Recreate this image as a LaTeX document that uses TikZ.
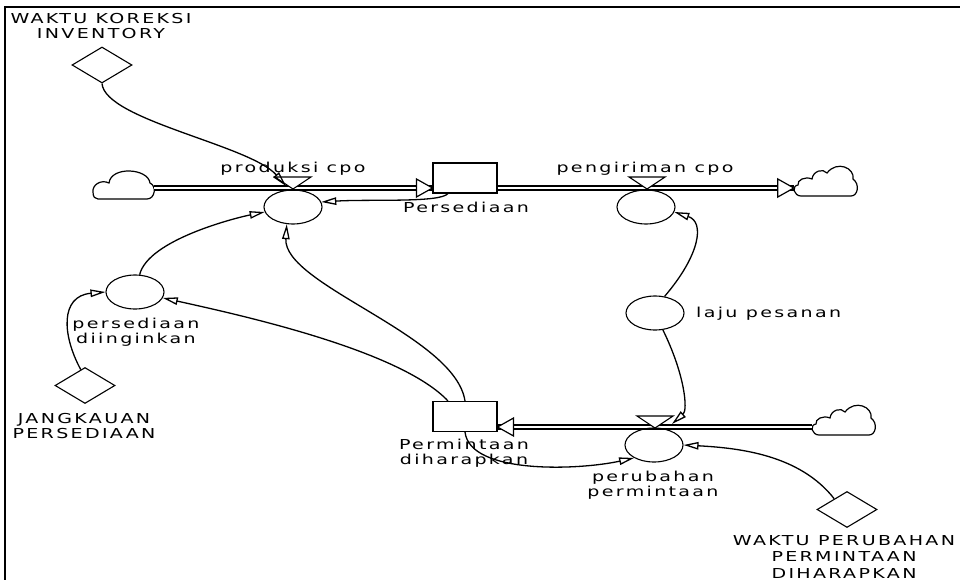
\documentclass[tikz,border=0pt]{standalone}
\usepackage{fontspec}
\setmainfont{DejaVu Sans}[FakeStretch=1.39,LetterSpace=17]
\usetikzlibrary{shapes.geometric,arrows.meta}
\tikzset{
  cloudright/.pic={\draw[line width=1.2pt,fill=white] (-24,8) -- (26,8)
     .. controls (33,8) and (35,-4) .. (28,-9)
     .. controls (30,-20) and (12,-28) .. (2,-15)
     .. controls (-2,-20) and (-12,-17) .. (-13,-9)
     .. controls (-20,-12) and (-28,-8) .. (-27,-3)
     .. controls (-34,-2) and (-31,8) .. (-24,8) -- cycle;},
  cloudleft/.pic={\draw[line width=1.2pt,fill=white] (-25,11) -- (24,11)
     .. controls (32,11) and (34,-2) .. (27,-5)
     .. controls (25,-20) and (-12,-22) .. (-14,-5)
     .. controls (-22,-9) and (-31,-3) .. (-30,4)
     .. controls (-30,9) and (-28,11) .. (-25,11) -- cycle;},
  valve/.pic={\draw[line width=1.1pt,fill=white] (-18,-11) -- (18,-11) -- (0,1) -- cycle;},
  flowhead/.pic={\draw[line width=1.2pt,fill=white] (0,0) -- (-16,-9) -- (-16,9) -- cycle;}
}
\begin{document}
\begin{tikzpicture}[x=1pt,y=-1pt,
  every node/.style={font=\fontsize{13.7}{15}\selectfont, inner sep=0pt},
  lbl/.style={align=center},
  aux/.style={draw, line width=1.1pt, ellipse, minimum width=58pt, minimum height=34pt},
  stock/.style={draw, line width=1.1pt, rectangle, minimum width=64pt, minimum height=30pt},
  const/.style={draw, line width=1.1pt, diamond, minimum width=60pt, minimum height=36pt},
  cloudnode/.style={minimum width=62pt, minimum height=30pt},
  link/.style={line width=1.3pt, -{Triangle[open,length=15pt,width=7.5pt]}},
  pipe/.style={line width=2pt, double, double distance=1.3pt}
]
\useasboundingbox (0,0) rectangle (960,580);
\fill[white] (0,0) rectangle (960,580);
% frame
\draw[line width=2pt] (5,600) -- (5,7) -- (970,7);

% clouds
\node[cloudnode] (cL) at (123,188) {};
\pic at (123,188) {cloudleft};
\node[cloudnode] (cR) at (825,188) {};
\pic at (825,188) {cloudright};
\node[cloudnode] (cB) at (843,427) {};
\pic at (843,427) {cloudright};

% stocks
\node[stock] (sP) at (465,178) {};
\node[anchor=base] (tsP) at (466,212) {Persediaan};
\node[stock] (sM) at (465,416.5) {};
\node[lbl,anchor=north] (tsM) at (464,439) {Permintaan\\diharapkan};

% pipes
\draw[pipe] (cL.east) -- (sP.west |- cL.east);
\pic at (sP.west |- cL.east) {flowhead};
\draw[pipe] (sP.east |- cL.east) -- (cR.west);
\pic at (cR.west) {flowhead};
\draw[pipe] (cB.west) -- (sM.east |- cB.west);
\pic[rotate=180] at (sM.east |- cB.west) {flowhead};

% flows
\coordinate (vP) at (293,188);
\pic at (vP) {valve};
\node[aux] (fP) at (293,207) {};
\node[anchor=base] (tfP) at (293,172) {produksi cpo};
\coordinate (vS) at (647,188);
\pic at (vS) {valve};
\node[aux] (fS) at (646,207) {};
\node[anchor=base] (tfS) at (645,172) {pengiriman cpo};
\coordinate (vM) at (655,427);
\pic at (vM) {valve};
\node[aux] (fM) at (654,445) {};
\node[lbl,anchor=north] (tfM) at (653,471) {perubahan\\permintaan};

% auxiliaries
\node[aux] (aL) at (655,313) {};
\node[anchor=base west] (taL) at (696,317) {laju pesanan};
\node[aux] (aD) at (135,292) {};
\node[lbl,anchor=north] (taD) at (136,318) {persediaan\\diinginkan};

% constants
\node[const] (d1) at (102,65) {};
\node[lbl,anchor=north] (td1) at (101,13) {WAKTU KOREKSI\\INVENTORY};
\node[const] (d2) at (85,385.5) {};
\node[lbl,anchor=north] (td2) at (84,413) {JANGKAUAN\\PERSEDIAAN};
\node[const] (d3) at (847,509.5) {};
\node[lbl,anchor=north,font=\fontsize{13.7}{16.5}\selectfont] (td3) at (844,535) {WAKTU PERUBAHAN\\PERMINTAAN\\DIHARAPKAN};

% links
\coordinate (vPin) at (286,186);
\coordinate (vMin) at (672,424);
\draw[link] (d1.south) .. controls (105,120) and (250,145) .. (vPin);
\draw[link] (aD.75) .. controls (148,240) and (235,218) .. (fP.190);
\draw[link] (d2.105) .. controls (62,335) and (60,296) .. (aD.west);
\draw[link] ([xshift=-17pt]sM.north) .. controls (400,350) and (240,315) .. (aD.-12);
\draw[link] (sM.north) .. controls (455,335) and (283,285) .. (fP.250);
\draw[link] ([xshift=-17pt]sP.south) .. controls (440,203) and (370,199) .. (fP.10);
\draw[link] (aL.60) .. controls (700,255) and (705,222) .. (fS.-10);
\draw[link] (aL.-65) .. controls (685,375) and (688,410) .. (vMin);
\draw[link] (sM.south) .. controls (470,475) and (580,470) .. (fM.213);
\draw[link] (d3.140) .. controls (800,455) and (740,448) .. (fM.east);
\end{tikzpicture}
\end{document}
